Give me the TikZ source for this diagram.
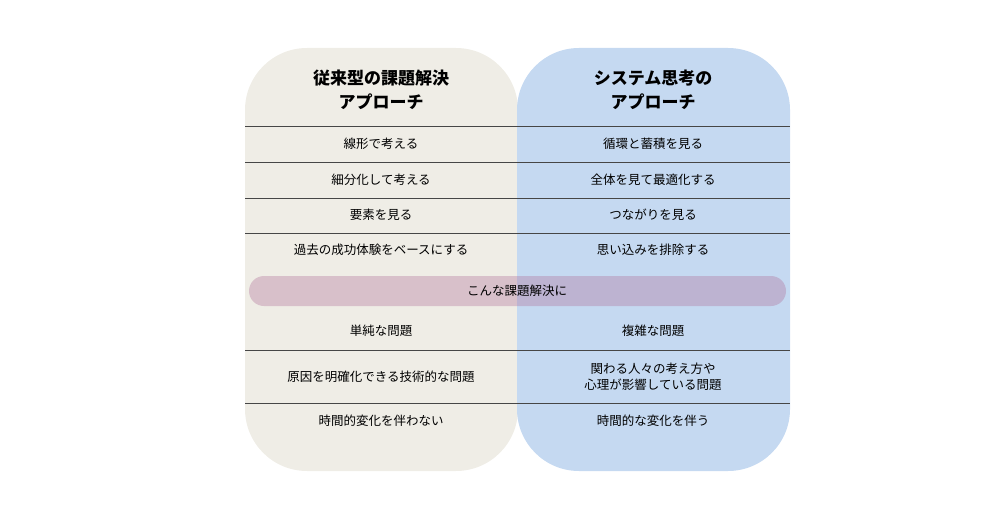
\documentclass[tikz,border=0pt]{standalone}
\usepackage{fontspec}
\setmainfont{Noto Sans CJK JP}
\definecolor{panelL}{RGB}{239,237,230}
\definecolor{panelR}{RGB}{197,217,241}
\definecolor{pillC}{RGB}{175,110,150}
\definecolor{ruleC}{RGB}{70,70,70}
\begin{document}
\begin{tikzpicture}[x=1pt, y=-1pt,
  panel/.style={rounded corners=62pt},
  rowtext/.style={font=\fontsize{12.5}{16}\selectfont, align=center},
  title/.style={font=\fontsize{17}{24}\selectfont\bfseries, align=center},
  sep/.style={ruleC, line width=0.8pt}]
  \useasboundingbox (0,0) rectangle (1000,524);
  % Panels
  \fill[panelL, panel] (245,48) rectangle (518,471);
  \fill[panelR, panel] (517,48) rectangle (790,471);

  % Titles
  \node[title] (tl) at (381,90) {従来型の課題解決\\アプローチ};
  \node[title] (tr) at (653,90) {システム思考の\\アプローチ};

  % Rules
  \foreach \y in {126,162,198,233,350,403}
    \draw[sep] (245,\y) -- (790,\y);

  % Upper rows
  \node[rowtext] (l1) at (381,144) {線形で考える};
  \node[rowtext] (l2) at (381,180) {細分化して考える};
  \node[rowtext] (l3) at (381,215) {要素を見る};
  \node[rowtext] (l4) at (381,250) {過去の成功体験をベースにする};
  \node[rowtext] (r1) at (653,144) {循環と蓄積を見る};
  \node[rowtext] (r2) at (653,180) {全体を見て最適化する};
  \node[rowtext] (r3) at (653,215) {つながりを見る};
  \node[rowtext] (r4) at (653,250) {思い込みを排除する};

  % Pill
  \fill[pillC, opacity=0.35, rounded corners=15pt] (249,276) rectangle (786,306);
  \node[rowtext] (pill) at (517,291) {こんな課題解決に};

  % Lower rows
  \node[rowtext] (l5) at (381,331) {単純な問題};
  \node[rowtext] (l6) at (381,377) {原因を明確化できる技術的な問題};
  \node[rowtext] (l7) at (381,421) {時間的変化を伴わない};
  \node[rowtext] (r5) at (653,331) {複雑な問題};
  \node[rowtext] (r6) at (653,377) {関わる人々の考え方や\\心理が影響している問題};
  \node[rowtext] (r7) at (653,421) {時間的な変化を伴う};
\end{tikzpicture}
\end{document}
